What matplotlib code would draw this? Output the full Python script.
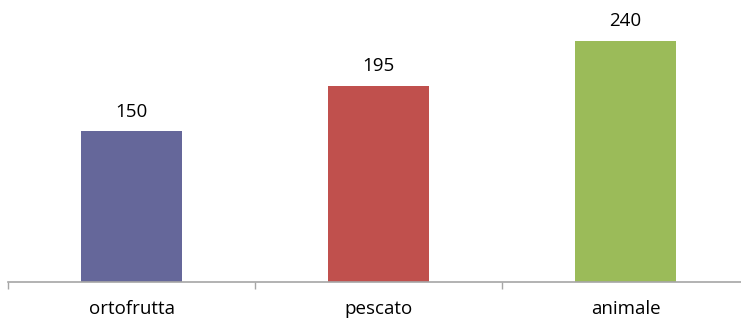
import matplotlib.pyplot as plt

categorie = ["ortofrutta", "pescato", "animale"]
valori = [150, 195, 240]
colori = ["#65679A", "#C0504D", "#9BBB59"]

plt.rcParams['font.family'] = ['Open Sans', 'DejaVu Sans']

fig = plt.figure(figsize=(7.41, 3.21), dpi=100)
# axes spans beyond the right edge, like the original crop
ax = fig.add_axes([8 / 741, 39.5 / 321, 741 / 741, 259 / 321])

x = list(range(len(categorie)))
bars = ax.bar(x, valori, width=0.41, color=colori, zorder=2)
for b, v in zip(bars, valori):
    ax.annotate(str(v), (b.get_x() + b.get_width() / 2, v),
                xytext=(0, 7.5), textcoords="offset points",
                ha="center", va="bottom", fontsize=13.5, color="#000000")

ax.set_xlim(-0.5, 2.5)
ax.set_ylim(0, 258)
ax.set_xticks([-0.5, 0.5, 1.5, 2.5])
ax.set_xticklabels([])
ax.set_xticks(x, minor=True)
ax.set_xticklabels(categorie, minor=True, fontsize=13.5)
ax.tick_params(axis="x", which="major", length=5, width=1, color="#A6A6A6", direction="out")
ax.tick_params(axis="x", which="minor", length=0, pad=13)
ax.set_yticks([])
for s in ["top", "right", "left"]:
    ax.spines[s].set_visible(False)
ax.spines["bottom"].set_color("#A6A6A6")
ax.spines["bottom"].set_linewidth(1.2)

fig.savefig("out.png", dpi=100)
